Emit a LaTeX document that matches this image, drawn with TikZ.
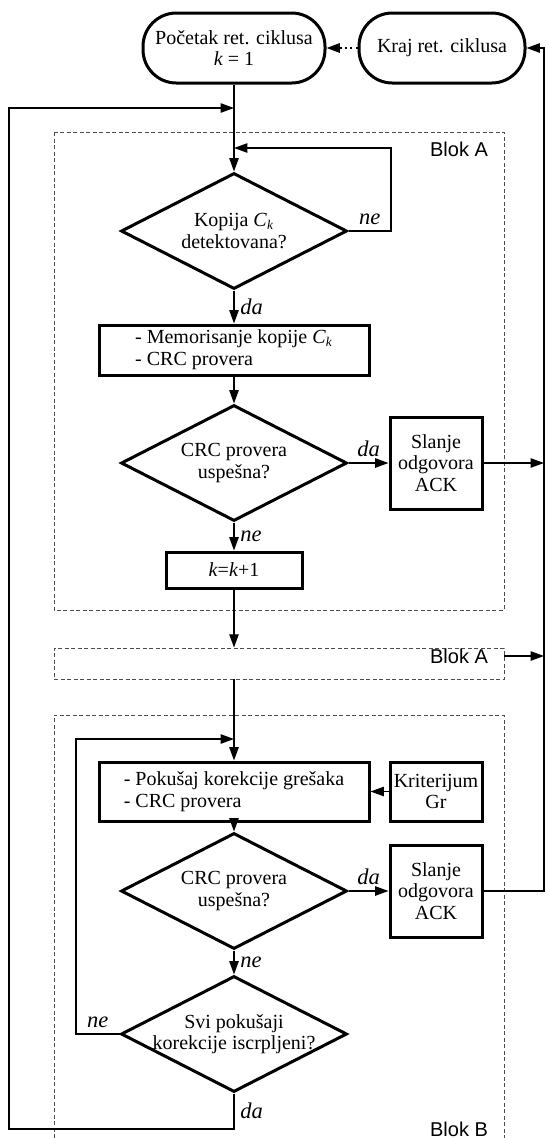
\documentclass[tikz,border=0pt]{standalone}
\usepackage{fontspec}
\setmainfont{Liberation Serif}
\newfontfamily\blokfont{Liberation Sans}
\usepackage{tikz}
\usetikzlibrary{arrows.meta, shapes, positioning}

\begin{document}
\begin{tikzpicture}[x=0.6pt, y=-0.6pt, ->, >={Triangle[length=8pt, width=5.6pt]}, line width=0.85pt, font=\fontsize{12}{13}\selectfont,
		term/.style={draw, rectangle, rounded corners=20pt, line width=1.8pt, minimum height=42pt, align=center, inner sep=2pt},
		box/.style={draw, rectangle, line width=1.8pt, align=left, inner sep=2pt},
		ack/.style={draw, rectangle, line width=1.8pt, align=center, inner sep=1pt, minimum width=55.2pt},
		decision/.style={draw, diamond, line width=1.8pt, aspect=1.9, inner sep=-6pt, minimum width=135.6pt, minimum height=69.6pt, align=center},
		blok/.style={draw=black!70, dash pattern=on 2.4pt off 1.5pt, line width=0.5pt, -},
		blokname/.style={font=\blokfont\fontsize{12}{13}\selectfont},
		lbl/.style={font=\fontsize{13.5}{14}\selectfont\itshape}]
		\useasboundingbox (0, 0) rectangle (549, 1138);

		% okviri blokova
		\draw[blok] (54, 132) rectangle (504, 610);
		\node[blok, minimum width=270pt, minimum height=18.6pt]	(blokA) at (279, 663.5) {};
		\draw[blok] (54, 1138) |- (504, 715) -- (504, 1138);
		\node[blokname]	(nazivA) at (459, 149) {Blok A};
		\node[blokname]	(nazivA2) at (459, 656) {Blok A};
		\node[blokname]	(nazivB) at (459, 1129) {Blok B};

		\node[term, minimum width=109.2pt]	(pocetak) at (234, 48) {Početak ret. ciklusa\\\textit{k} = 1};
		\node[term, minimum width=99.6pt]	(kraj) at (442, 48) {Kraj ret. ciklusa};
		\node[decision]							(kopija) at (234, 231) {Kopija \textit{C}\textsubscript{\textit{k}}\\detektovana?};
		\node[box, minimum width=162pt, minimum height=30pt]	(memorisanje) at (234, 350) {- Memorisanje kopije \textit{C}\textsubscript{\textit{k}}\\- CRC provera};
		\node[decision]							(crcA) at (234, 463) {CRC provera\\uspešna?};
		\node[ack, minimum height=55.2pt]		(ackA) at (436, 463) {Slanje\\odgovora\\ACK};
		\node[box, align=center, minimum width=81.6pt, minimum height=21.6pt]	(inkrement) at (234, 570) {\textit{k}=\textit{k}+1};
		\node[box, minimum width=162pt, minimum height=35.4pt]	(korekcija) at (234, 791.5) {- Pokušaj korekcije grešaka\\- CRC provera};
		\node[ack, minimum height=35.4pt]		(kriterijum) at (436, 791.5) {Kriterijum\\Gr};
		\node[decision]							(crcB) at (234, 891) {CRC provera\\uspešna?};
		\node[ack, minimum height=55.2pt]		(ackB) at (436, 891) {Slanje\\odgovora\\ACK};
		\node[decision]							(iscrpljeni) at (234, 1034) {Svi pokušaji\\korekcije iscrpljeni?};

		\coordinate (ulaz) at (234, 108);
		\coordinate (levo) at (9, 1129);
		\coordinate (petlja) at (391, 148);
		\coordinate (ulazB) at (234, 739);
		\coordinate (petljaB) at (76, 739);
		\coordinate (desno) at (544, 48);
		\coordinate (desnoA) at (544, 463);
		\coordinate (desnoB) at (544, 656);

		\draw[dotted, line width=1.2pt] (kraj) -- (pocetak);
		\draw (pocetak) -- (kopija);
		\draw (kopija.east) -- node[lbl, above] {ne} (kopija.east -| petlja) |- (petlja -| pocetak);
		\draw (kopija) -- node[lbl, right] {da} (memorisanje);
		\draw (memorisanje) -- (crcA);
		\draw (crcA) -- node[lbl, above] {da} (ackA);
		\draw (ackA) -- (desnoA);
		\draw (crcA) -- node[lbl, right] {ne} (inkrement);
		\draw (inkrement) -- (blokA.north -| inkrement);
		\draw (blokA.east |- desnoB) -- (desnoB);
		\draw (blokA.south -| inkrement) -- (korekcija);
		\draw (kriterijum) -- (korekcija);
		\draw (korekcija) -- (crcB);
		\draw (crcB) -- node[lbl, above] {da} (ackB);
		\draw (crcB) -- node[lbl, right] {ne} (iscrpljeni);
		\draw (ackB.east) -| (desno) -- (kraj);
		\draw (iscrpljeni.west) -- node[lbl, above] {ne} (iscrpljeni.west -| petljaB) -- (petljaB) -- (ulazB);
		\draw (iscrpljeni.south) -- node[lbl, right] {da} (iscrpljeni.south |- levo) -- (levo) |- (ulaz);
	\end{tikzpicture}
\end{document}
